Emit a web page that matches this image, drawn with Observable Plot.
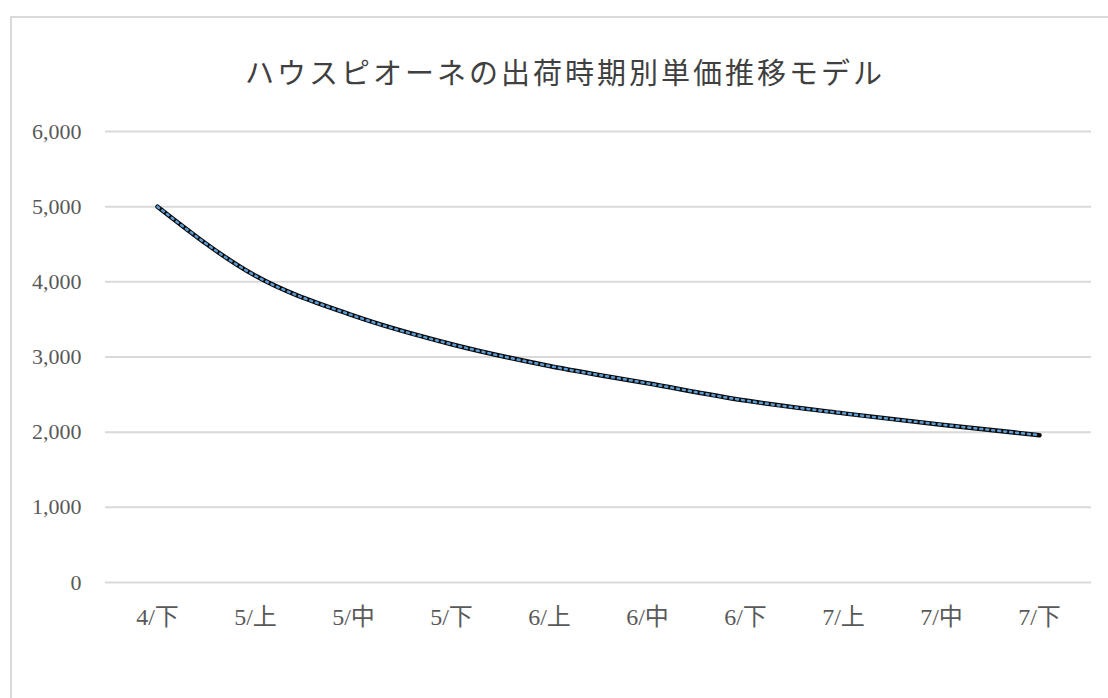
<!DOCTYPE html>
<html lang="ja">
<head>
<meta charset="utf-8">
<script src="https://cdn.jsdelivr.net/npm/d3@7"></script>
<script src="https://cdn.jsdelivr.net/npm/@observablehq/plot@0.6"></script>
<style>
  html, body { margin: 0; padding: 0; background: #fff; overflow: hidden; }
  #wrap { position: relative; width: 1108px; height: 698px; }
  #frame {
    position: absolute; left: 10px; top: 16px; width: 1200px; height: 800px;
    border-left: 2px solid #d9d9d9; border-top: 2px solid #d9d9d9; box-sizing: border-box;
  }
  #title {
    position: absolute; left: 0; width: 1130px; top: 50px; text-align: center;
    font-family: "Liberation Serif", "Noto Sans CJK JP", serif;
    font-size: 29px; letter-spacing: 3px; color: #404040; font-weight: normal;
  }
  #chart { position: absolute; left: 0; top: 0; }
</style>
</head>
<body>
<div id="wrap">
  <div id="frame"></div>
  <div id="chart"></div>
  <div id="title">ハウスピオーネの出荷時期別単価推移モデル</div>
</div>
<script>
// 出荷時期（旬）
const periods = ["4/下", "5/上", "5/中", "5/下", "6/上", "6/中", "6/下", "7/上", "7/中", "7/下"];
// 単価（円）
const prices = [5000, 4080, 3550, 3170, 2880, 2650, 2420, 2250, 2100, 1960];
// 縦軸の目盛
const yTicks = [0, 1000, 2000, 3000, 4000, 5000, 6000];

const data = periods.map((p, i) => ({period: p, price: prices[i]}));
const font = '"Liberation Serif", "Noto Sans CJK JP", serif';

const chart = Plot.plot({
  width: 1108,
  height: 698,
  marginLeft: 105,
  marginRight: 17,
  marginTop: 131,
  marginBottom: 116,
  style: {fontFamily: font, fontSize: "22px", color: "#595959", background: "transparent"},
  x: {type: "point", domain: periods, padding: 0.5, label: null},
  y: {domain: [0, 6000], label: null},
  marks: [
    Plot.ruleY(yTicks, {stroke: "#d9d9d9", strokeWidth: 2}),
    Plot.axisY({ticks: yTicks, tickSize: 0, tickPadding: 24, tickFormat: d3.format(","), fill: "#595959", fontSize: 22}),
    Plot.axisX({tickSize: 0, tickPadding: 25, fill: "#595959", fontSize: 24}),
    // 黒い太線の上に青の点線を重ねる
    Plot.line(data, {x: "period", y: "price", curve: "monotone-x", stroke: "#0a0a0a", strokeWidth: 4.5, strokeLinecap: "round"}),
    Plot.line(data, {x: "period", y: "price", curve: "monotone-x", stroke: "#5b9bd5", strokeWidth: 2.5, strokeDasharray: "2,4"})
  ]
});
document.getElementById("chart").appendChild(chart);
</script>
</body>
</html>
